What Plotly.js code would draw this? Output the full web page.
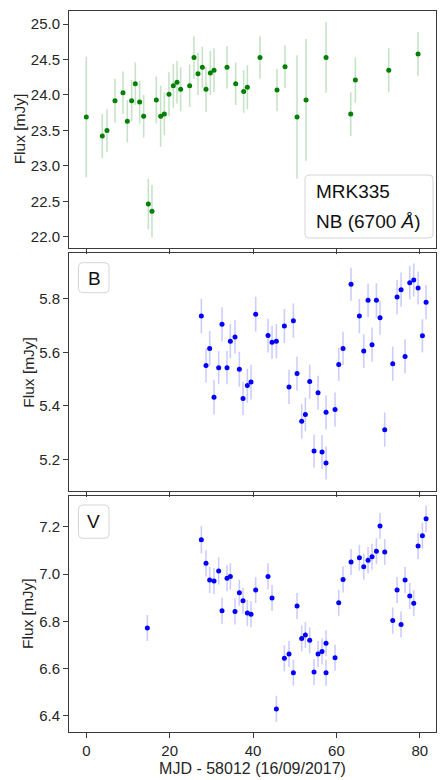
<!DOCTYPE html>
<html>
<head>
<meta charset="utf-8">
<script src="https://cdn.plot.ly/plotly-3.0.1.min.js"></script>
<style>html,body{margin:0;padding:0;background:#fff;}#chart{width:440px;height:780px;}</style>
</head>
<body>
<div id="chart"></div>
<script>
// NB (6700 Å) panel
var nbX = [0,3.84,4.96,6.88,8.8,9.84,10.88,11.76,12.8,13.76,14.88,15.76,16.8,17.84,18.72,19.84,20.88,21.76,22.64,24.8,25.84,26.8,27.84,28.72,29.76,30.64,33.76,35.84,37.76,38.64,41.68,45.76,47.68,50.56,52.72,57.52,63.44,64.56,72.56,79.6];
var nbY = [23.69,23.42,23.50,23.92,24.03,23.63,23.92,24.16,23.90,23.70,22.46,22.36,23.93,23.70,23.73,24.01,24.13,24.18,24.08,24.13,24.53,24.30,24.39,24.08,24.31,24.35,24.39,24.16,24.05,24.11,24.53,24.07,24.40,23.69,23.93,24.53,23.73,24.21,24.35,24.58];
var nbErr = [0.85,0.31,0.30,0.31,0.30,0.30,0.29,0.30,0.30,0.30,0.36,0.37,0.33,0.43,0.30,0.31,0.31,0.30,0.31,0.30,0.30,0.30,0.29,0.32,0.31,0.31,0.30,0.30,0.30,0.31,0.30,0.30,0.30,0.87,0.86,0.50,0.31,0.32,0.31,0.31];

// B panel
var bX = [27.6,28.72,29.6,30.64,31.76,32.56,33.76,34.56,35.68,36.72,37.6,38.64,39.52,40.64,43.6,44.56,45.6,47.52,48.64,49.68,50.56,51.68,52.56,53.6,54.64,55.6,56.56,57.52,57.52,59.68,60.56,61.6,63.52,65.52,66.56,67.6,68.56,69.6,70.48,71.6,73.52,74.56,75.52,76.48,77.6,78.56,79.6,80.64,81.52];
var bY = [5.736,5.551,5.615,5.432,5.543,5.705,5.543,5.642,5.658,5.537,5.428,5.476,5.489,5.743,5.663,5.638,5.642,5.699,5.471,5.719,5.521,5.342,5.368,5.491,5.231,5.449,5.227,5.186,5.376,5.386,5.555,5.615,5.855,5.736,5.605,5.795,5.629,5.795,5.730,5.311,5.558,5.807,5.835,5.585,5.861,5.871,5.841,5.662,5.788];
var bErr = [0.065,0.064,0.065,0.064,0.062,0.064,0.062,0.064,0.063,0.065,0.062,0.063,0.065,0.065,0.063,0.062,0.064,0.064,0.064,0.064,0.064,0.064,0.063,0.064,0.062,0.064,0.064,0.062,0.064,0.064,0.062,0.062,0.062,0.064,0.063,0.062,0.064,0.064,0.064,0.064,0.064,0.064,0.064,0.064,0.063,0.062,0.062,0.062,0.064];

// V panel
var vX = [14.64,27.6,28.72,29.6,30.64,31.76,32.56,33.76,34.56,35.68,36.72,37.6,38.64,39.52,40.64,43.6,44.56,45.6,47.52,48.64,49.68,50.56,51.68,52.56,53.6,54.64,55.6,56.56,57.52,57.52,59.68,60.56,61.6,63.52,65.52,66.56,67.6,68.56,69.6,70.48,71.6,73.52,74.56,75.52,76.48,77.6,78.56,79.6,80.64,81.52];
var vY = [6.772,7.145,7.046,6.975,6.970,7.013,6.845,6.982,6.990,6.842,6.921,6.887,6.835,6.830,6.932,6.990,6.899,6.430,6.644,6.662,6.583,6.865,6.727,6.742,6.720,6.586,6.662,6.673,6.583,6.707,6.646,6.879,6.977,7.051,7.069,7.031,7.058,7.073,7.096,7.203,7.093,6.803,6.932,6.787,6.975,6.907,6.876,7.118,7.162,7.234];
var vErr = [0.055,0.058,0.056,0.055,0.055,0.057,0.055,0.055,0.055,0.055,0.055,0.055,0.055,0.055,0.055,0.055,0.055,0.055,0.055,0.055,0.055,0.055,0.055,0.055,0.055,0.055,0.055,0.055,0.055,0.055,0.055,0.055,0.055,0.055,0.055,0.055,0.055,0.055,0.055,0.055,0.055,0.055,0.055,0.055,0.055,0.055,0.055,0.055,0.055,0.056];

var xTicks = [0,20,40,60,80];
var nbTicks = [22.0,22.5,23.0,23.5,24.0,24.5,25.0];
var bTicks = [5.2,5.4,5.6,5.8];
var vTicks = [6.4,6.6,6.8,7.0,7.2];
var yTitle = 'Flux [mJy]';
var xTitle = 'MJD - 58012 (16/09/2017)';

var W = 440, H = 780;
var FONT = 'Liberation Sans, Arial, Helvetica, sans-serif';
var TXT = '#262626';
var AX = '#3a3a3a';

function trace(x, y, e, col, errCol, xa, ya) {
  return {
    type: 'scatter', mode: 'markers', x: x, y: y, xaxis: xa, yaxis: ya,
    marker: {color: col, size: 5},
    error_y: {type: 'data', array: e, visible: true, color: errCol, thickness: 1.6, width: 0},
    showlegend: false, hoverinfo: 'x+y'
  };
}

var data = [
  trace(nbX, nbY, nbErr, '#008000', 'rgba(0,128,0,0.22)', 'x', 'y'),
  trace(bX, bY, bErr, '#0000ff', 'rgba(0,0,255,0.2)', 'x2', 'y2'),
  trace(vX, vY, vErr, '#0000ff', 'rgba(0,0,255,0.2)', 'x3', 'y3')
];

var xd = [69/W, 436/W];
function xaxis(anchor, showLabels) {
  return {
    domain: xd, anchor: anchor, range: [-4.15, 83.9],
    tickvals: xTicks, showticklabels: showLabels,
    ticks: 'outside', ticklen: 5, tickwidth: 1, tickcolor: AX,
    showline: true, mirror: true, linecolor: AX, linewidth: 1,
    showgrid: false, zeroline: false,
    tickfont: {family: FONT, size: 15, color: TXT}
  };
}
function yaxis(anchor, top, bottom, range, ticks) {
  return {
    domain: [1 - bottom/H, 1 - top/H], anchor: anchor, range: range,
    tickvals: ticks, tickformat: '.1f',
    ticks: 'outside', ticklen: 5, tickwidth: 1, tickcolor: AX,
    showline: true, mirror: true, linecolor: AX, linewidth: 1,
    showgrid: false, zeroline: false,
    tickfont: {family: FONT, size: 15, color: TXT}
  };
}

function rrect(x0, y0, x1, y1, r) {
  var X = function(p){return p/W;}, Y = function(p){return 1 - p/H;};
  return 'M' + X(x0+r) + ',' + Y(y0) +
    ' L' + X(x1-r) + ',' + Y(y0) +
    ' Q' + X(x1) + ',' + Y(y0) + ' ' + X(x1) + ',' + Y(y0+r) +
    ' L' + X(x1) + ',' + Y(y1-r) +
    ' Q' + X(x1) + ',' + Y(y1) + ' ' + X(x1-r) + ',' + Y(y1) +
    ' L' + X(x0+r) + ',' + Y(y1) +
    ' Q' + X(x0) + ',' + Y(y1) + ' ' + X(x0) + ',' + Y(y1-r) +
    ' L' + X(x0) + ',' + Y(y0+r) +
    ' Q' + X(x0) + ',' + Y(y0) + ' ' + X(x0+r) + ',' + Y(y0) + ' Z';
}
function box(x0, y0, x1, y1) {
  return {type: 'path', xref: 'paper', yref: 'paper', path: rrect(x0, y0, x1, y1, 4),
    line: {color: '#d6d6d6', width: 1}, fillcolor: 'rgba(255,255,255,0.85)', layer: 'above'};
}
function label(text, px, py, anchor) {
  return {xref: 'paper', yref: 'paper', x: px/W, y: 1 - py/H, xanchor: anchor, yanchor: 'middle',
    text: text, showarrow: false, font: {family: FONT, size: 19, color: '#111'}};
}
function ylab(px, top, bottom) {
  return {xref: 'paper', yref: 'paper', x: px/W, y: 1 - (top + bottom)/2/H, xanchor: 'center', yanchor: 'middle',
    text: yTitle, textangle: -90, showarrow: false, font: {family: FONT, size: 15.5, color: TXT}};
}

var layout = {
  width: W, height: H,
  margin: {l: 0, r: 0, t: 0, b: 0},
  paper_bgcolor: '#fff', plot_bgcolor: '#fff',
  showlegend: false,
  xaxis: xaxis('y', false),
  xaxis2: xaxis('y2', false),
  xaxis3: Object.assign(xaxis('y3', true), {
    title: {text: xTitle, font: {family: FONT, size: 16, color: TXT}, standoff: 4}
  }),
  yaxis: yaxis('x', 10.7, 248, [21.84, 25.19], nbTicks),
  yaxis2: yaxis('x2', 253.3, 490.7, [5.0825, 5.971], bTicks),
  yaxis3: yaxis('x3', 495.7, 732.3, [6.331, 7.331], vTicks),
  shapes: [
    box(305, 175, 433, 238),
    box(78.5, 262.7, 109, 292.7),
    box(78.5, 505, 109, 538.3)
  ],
  annotations: [
    ylab(19, 10.7, 248),
    ylab(27.7, 253.3, 490.7),
    ylab(27, 495.7, 732.3),
    label('MRK335', 314, 191, 'left'),
    label('NB (6700 <i>Å</i>)', 314, 221.5, 'left'),
    label('B', 94, 278.3, 'center'),
    label('V', 93.5, 521.7, 'center')
  ]
};

Plotly.newPlot('chart', data, layout, {displayModeBar: false, staticPlot: true});
</script>
</body>
</html>
